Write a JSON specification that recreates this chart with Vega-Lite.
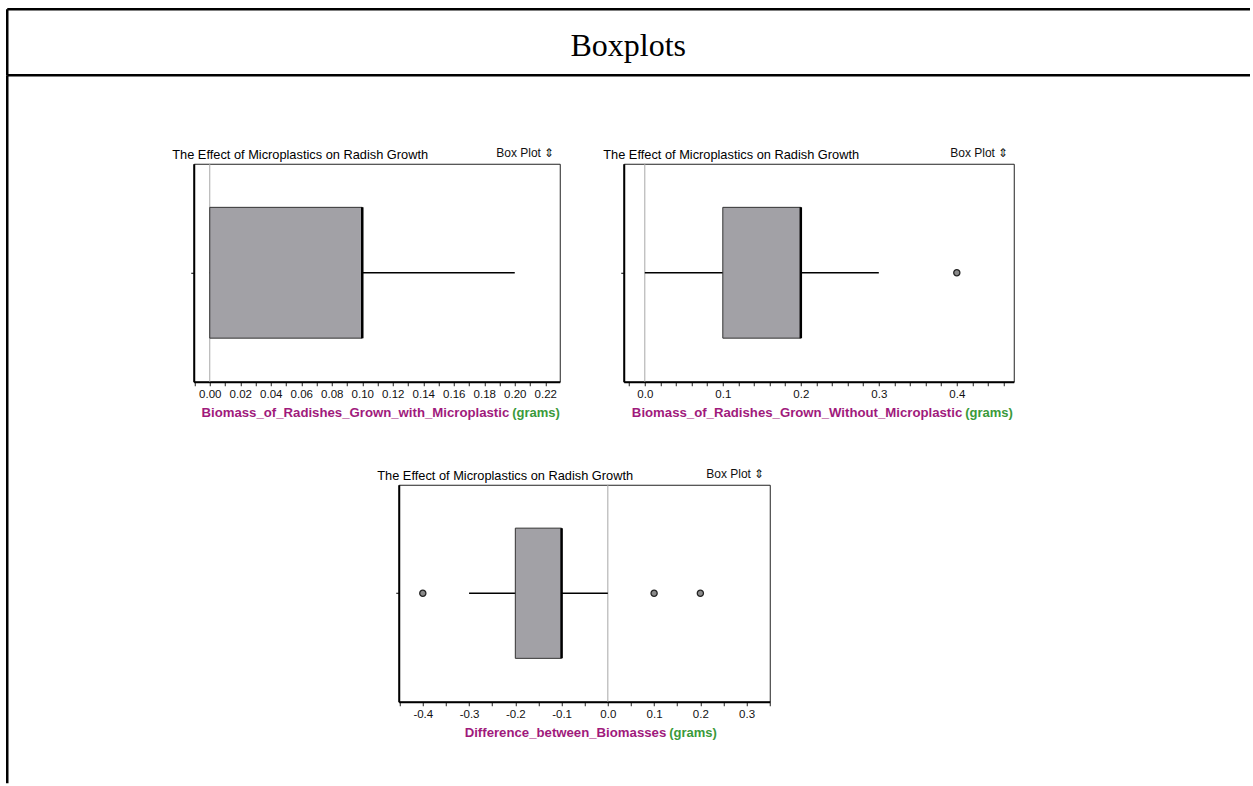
{
  "$schema": "https://vega.github.io/schema/vega-lite/v6.json",
  "background": "white",
  "padding": {"left": 6.75, "top": 8.75, "right": 0, "bottom": 0},
  "config": {
    "font": "Liberation Sans",
    "axis": {"labelFont": "Liberation Sans", "titleFont": "Liberation Sans"}
  },
  "datasets": {
    "header": [{"label": "Boxplots"}],
    "summary": [
      {"panel": "with", "variable": "Biomass_of_Radishes_Grown_with_Microplastic", "min": 0, "q1": 0, "median": 0.1, "q3": 0.1, "max": 0.2},
      {"panel": "without", "variable": "Biomass_of_Radishes_Grown_Without_Microplastic", "min": 0, "q1": 0.1, "median": 0.2, "q3": 0.2, "max": 0.3},
      {"panel": "difference", "variable": "Difference_between_Biomasses", "min": -0.3, "q1": -0.2, "median": -0.1, "q3": -0.1, "max": 0}
    ],
    "outliers": [
      {"panel": "without", "variable": "Biomass_of_Radishes_Grown_Without_Microplastic", "value": 0.4},
      {"panel": "difference", "variable": "Difference_between_Biomasses", "value": -0.4},
      {"panel": "difference", "variable": "Difference_between_Biomasses", "value": 0.1},
      {"panel": "difference", "variable": "Difference_between_Biomasses", "value": 0.2}
    ]
  },
  "bounds": "flush",
  "spacing": 0,
  "vconcat": [
    {
      "width": 1243,
      "height": 66,
      "view": {"stroke": null},
      "data": {"name": "header"},
      "mark": {"type": "text", "font": "Liberation Serif", "fontSize": 32, "baseline": "alphabetic", "align": "center", "color": "black"},
      "encoding": {
        "text": {"field": "label"},
        "x": {"datum": 0.5, "type": "quantitative", "scale": {"domain": [0, 1]}, "axis": null},
        "y": {"datum": 0.29, "type": "quantitative", "scale": {"domain": [0, 1], "nice": false},
              "axis": {"values": [0, 1], "grid": true, "gridColor": "black", "gridWidth": 2.5, "gridOpacity": 1, "domain": true, "domainColor": "black", "domainWidth": 2.5, "ticks": false, "labels": false, "title": null}}
      }
    },
    {
      "bounds": "flush",
      "spacing": 0,
      "hconcat": [
        {
          "width": 187,
          "height": 708,
          "view": {"stroke": null},
          "data": {"name": "header"},
          "mark": {"type": "text"},
          "encoding": {
            "text": {"value": ""},
            "y": {"datum": 0, "type": "quantitative", "scale": {"domain": [0, 1]},
                  "axis": {"domain": true, "domainColor": "black", "domainWidth": 2.5, "ticks": false, "labels": false, "grid": false, "title": null}}
          }
        },
        {
          "bounds": "flush",
          "spacing": 0,
          "vconcat": [
            {
              "width": 10, "height": 89, "view": {"stroke": null},
              "data": {"name": "header"}, "mark": "text", "encoding": {"text": {"value": ""}}
            },
            {
              "bounds": "flush",
              "spacing": 64,
              "hconcat": [
                {
                  "width": 366,
                  "height": 218,
                  "view": {"stroke": "#222", "strokeWidth": 1},
                  "resolve": {"axis": {"x": "independent", "y": "independent"}},
                  "layer": [
                    {
                      "data": {"name": "summary"},
                      "transform": [{"filter": "datum.panel === 'with'"}],
                      "mark": {"type": "rule", "color": "#a8a8a8", "strokeWidth": 1},
                      "encoding": {"x": {"datum": 0, "type": "quantitative", "axis": null}}
                    },
                    {
                      "data": {"name": "summary"},
                      "transform": [{"filter": "datum.panel === 'with'"}],
                      "mark": {"type": "rule", "color": "black", "strokeWidth": 1.5},
                      "encoding": {
                        "x": {"field": "min", "type": "quantitative",
                              "axis": {"orient": "top", "domain": false, "ticks": false, "labels": false, "grid": false, "title": "(grams)", "titleColor": "#3a9a3a", "titleFontSize": 13, "titleFontWeight": "bold", "titleAlign": "left", "titleAnchor": null, "titleBaseline": "alphabetic", "titleX": 318, "titleY": 253}},
                        "x2": {"field": "max"},
                        "y": {"field": "variable", "type": "nominal", "axis": null}
                      }
                    },
                    {
                      "data": {"name": "summary"},
                      "transform": [{"filter": "datum.panel === 'with'"}],
                      "mark": {"type": "bar", "height": {"band": 0.6}, "fill": "#a2a1a6", "stroke": "#333333", "strokeWidth": 1},
                      "encoding": {
                        "x": {"field": "q1", "type": "quantitative",
                              "scale": {"domain": [-0.0105, 0.2295], "nice": false, "zero": false},
                              "axis": {"orient": "bottom", "values": [-0.01, 0, 0.01, 0.02, 0.03, 0.04, 0.05, 0.06, 0.07, 0.08, 0.09, 0.1, 0.11, 0.12, 0.13, 0.14, 0.15, 0.16, 0.17, 0.18, 0.19, 0.2, 0.21, 0.22],
                                       "labelExpr": "abs(round(datum.value*100)) % 2 == 0 ? format(datum.value, '.2f') : ''",
                                       "labelFontSize": 11.5, "labelColor": "#111", "labelPadding": 3, "labelFlush": false, "labelOverlap": false,
                                       "domainColor": "black", "domainWidth": 2, "tickColor": "#222", "tickSize": 4, "grid": false,
                                       "title": "Biomass_of_Radishes_Grown_with_Microplastic", "titleColor": "#a01a7c", "titleFontSize": 13.2, "titleFontWeight": "bold", "titleAlign": "right", "titleAnchor": null, "titleBaseline": "alphabetic", "titleX": 315, "titleY": 35}},
                        "x2": {"field": "q3"},
                        "y": {"field": "variable", "type": "nominal", "scale": {"paddingInner": 0, "paddingOuter": 0},
                              "axis": {"orient": "left", "labels": false, "ticks": true, "tickSize": 3, "tickColor": "black", "domainColor": "black", "domainWidth": 2, "grid": false,
                                       "title": "The Effect of Microplastics on Radish Growth", "titleAngle": 0, "titleAlign": "left", "titleAnchor": null, "titleBaseline": "alphabetic", "titleFontSize": 12.8, "titleFontWeight": "normal", "titleColor": "black", "titleX": -22, "titleY": -5}}
                      }
                    },
                    {
                      "data": {"name": "summary"},
                      "transform": [{"filter": "datum.panel === 'with'"}],
                      "mark": {"type": "bar", "height": {"band": 0.6}, "fill": null, "stroke": "black", "strokeWidth": 2.5},
                      "encoding": {
                        "x": {"field": "median", "type": "quantitative", "axis": null},
                        "x2": {"field": "median"},
                        "y": {"field": "variable", "type": "nominal",
                              "axis": {"orient": "right", "labels": false, "ticks": false, "domain": false, "grid": false,
                                       "title": "Box Plot ⇕", "titleAngle": 0, "titleAlign": "right", "titleAnchor": null, "titleBaseline": "alphabetic", "titleFontSize": 12, "titleFontWeight": "normal", "titleColor": "#111", "titleX": -6, "titleY": -7}}
                      }
                    }
                  ]
                },
                {
                  "width": 390,
                  "height": 218,
                  "view": {"stroke": "#222", "strokeWidth": 1},
                  "resolve": {"axis": {"x": "independent", "y": "independent"}},
                  "layer": [
                    {
                      "data": {"name": "summary"},
                      "transform": [{"filter": "datum.panel === 'without'"}],
                      "mark": {"type": "rule", "color": "#a8a8a8", "strokeWidth": 1},
                      "encoding": {"x": {"datum": 0, "type": "quantitative", "axis": null}}
                    },
                    {
                      "data": {"name": "summary"},
                      "transform": [{"filter": "datum.panel === 'without'"}],
                      "mark": {"type": "rule", "color": "black", "strokeWidth": 1.5},
                      "encoding": {
                        "x": {"field": "min", "type": "quantitative",
                              "axis": {"orient": "top", "domain": false, "ticks": false, "labels": false, "grid": false, "title": "(grams)", "titleColor": "#3a9a3a", "titleFontSize": 13, "titleFontWeight": "bold", "titleAlign": "left", "titleAnchor": null, "titleBaseline": "alphabetic", "titleX": 341, "titleY": 253}},
                        "x2": {"field": "max"},
                        "y": {"field": "variable", "type": "nominal", "axis": null}
                      }
                    },
                    {
                      "data": {"name": "summary"},
                      "transform": [{"filter": "datum.panel === 'without'"}],
                      "mark": {"type": "bar", "height": {"band": 0.6}, "fill": "#a2a1a6", "stroke": "#333333", "strokeWidth": 1},
                      "encoding": {
                        "x": {"field": "q1", "type": "quantitative",
                              "scale": {"domain": [-0.027, 0.473], "nice": false, "zero": false},
                              "axis": {"orient": "bottom", "values": [-0.02, 0, 0.02, 0.04, 0.06, 0.08, 0.1, 0.12, 0.14, 0.16, 0.18, 0.2, 0.22, 0.24, 0.26, 0.28, 0.3, 0.32, 0.34, 0.36, 0.38, 0.4, 0.42, 0.44, 0.46],
                                       "labelExpr": "abs(round(datum.value*100)) % 10 == 0 ? format(datum.value, '.1f') : ''",
                                       "labelFontSize": 11.5, "labelColor": "#111", "labelPadding": 3, "labelFlush": false, "labelOverlap": false,
                                       "domainColor": "black", "domainWidth": 2, "tickColor": "#222", "tickSize": 4, "grid": false,
                                       "title": "Biomass_of_Radishes_Grown_Without_Microplastic", "titleColor": "#a01a7c", "titleFontSize": 13.2, "titleFontWeight": "bold", "titleAlign": "right", "titleAnchor": null, "titleBaseline": "alphabetic", "titleX": 338, "titleY": 35}},
                        "x2": {"field": "q3"},
                        "y": {"field": "variable", "type": "nominal", "scale": {"paddingInner": 0, "paddingOuter": 0},
                              "axis": {"orient": "left", "labels": false, "ticks": true, "tickSize": 3, "tickColor": "black", "domainColor": "black", "domainWidth": 2, "grid": false,
                                       "title": "The Effect of Microplastics on Radish Growth", "titleAngle": 0, "titleAlign": "left", "titleAnchor": null, "titleBaseline": "alphabetic", "titleFontSize": 12.8, "titleFontWeight": "normal", "titleColor": "black", "titleX": -21, "titleY": -5}}
                      }
                    },
                    {
                      "data": {"name": "summary"},
                      "transform": [{"filter": "datum.panel === 'without'"}],
                      "mark": {"type": "bar", "height": {"band": 0.6}, "fill": null, "stroke": "black", "strokeWidth": 2.5},
                      "encoding": {
                        "x": {"field": "median", "type": "quantitative", "axis": null},
                        "x2": {"field": "median"},
                        "y": {"field": "variable", "type": "nominal",
                              "axis": {"orient": "right", "labels": false, "ticks": false, "domain": false, "grid": false,
                                       "title": "Box Plot ⇕", "titleAngle": 0, "titleAlign": "right", "titleAnchor": null, "titleBaseline": "alphabetic", "titleFontSize": 12, "titleFontWeight": "normal", "titleColor": "#111", "titleX": -6, "titleY": -7}}
                      }
                    },
                    {
                      "data": {"name": "outliers"},
                      "transform": [{"filter": "datum.panel === 'without'"}],
                      "mark": {"type": "point", "shape": "circle", "filled": true, "size": 38, "fill": "#8a8a8a", "stroke": "#222222", "strokeWidth": 1.3, "opacity": 1},
                      "encoding": {
                        "x": {"field": "value", "type": "quantitative", "axis": null},
                        "y": {"field": "variable", "type": "nominal", "axis": null}
                      }
                    }
                  ]
                }
              ]
            },
            {
              "width": 10, "height": 321, "view": {"stroke": null},
              "data": {"name": "header"}, "mark": "text", "encoding": {"text": {"value": ""}}
            },
            {
              "bounds": "flush",
              "spacing": 0,
              "hconcat": [
                {
                  "width": 205, "height": 10, "view": {"stroke": null},
                  "data": {"name": "header"}, "mark": "text", "encoding": {"text": {"value": ""}}
                },
                {
                  "width": 371,
                  "height": 217,
                  "view": {"stroke": "#222", "strokeWidth": 1},
                  "resolve": {"axis": {"x": "independent", "y": "independent"}},
                  "layer": [
                    {
                      "data": {"name": "summary"},
                      "transform": [{"filter": "datum.panel === 'difference'"}],
                      "mark": {"type": "rule", "color": "#a8a8a8", "strokeWidth": 1},
                      "encoding": {"x": {"datum": 0, "type": "quantitative", "axis": null}}
                    },
                    {
                      "data": {"name": "summary"},
                      "transform": [{"filter": "datum.panel === 'difference'"}],
                      "mark": {"type": "rule", "color": "black", "strokeWidth": 1.5},
                      "encoding": {
                        "x": {"field": "min", "type": "quantitative",
                              "axis": {"orient": "top", "domain": false, "ticks": false, "labels": false, "grid": false, "title": "(grams)", "titleColor": "#3a9a3a", "titleFontSize": 13, "titleFontWeight": "bold", "titleAlign": "left", "titleAnchor": null, "titleBaseline": "alphabetic", "titleX": 270, "titleY": 252}},
                        "x2": {"field": "max"},
                        "y": {"field": "variable", "type": "nominal", "axis": null}
                      }
                    },
                    {
                      "data": {"name": "summary"},
                      "transform": [{"filter": "datum.panel === 'difference'"}],
                      "mark": {"type": "bar", "height": {"band": 0.6}, "fill": "#a2a1a6", "stroke": "#333333", "strokeWidth": 1},
                      "encoding": {
                        "x": {"field": "q1", "type": "quantitative",
                              "scale": {"domain": [-0.452, 0.35], "nice": false, "zero": false},
                              "axis": {"orient": "bottom", "values": [-0.45, -0.4, -0.35, -0.3, -0.25, -0.2, -0.15, -0.1, -0.05, 0, 0.05, 0.1, 0.15, 0.2, 0.25, 0.3, 0.35],
                                       "labelExpr": "abs(round(datum.value*100)) % 10 == 0 ? replace(format(datum.value, '.1f'), '−', '-') : ''",
                                       "labelFontSize": 11.5, "labelColor": "#111", "labelPadding": 3, "labelFlush": false, "labelOverlap": false,
                                       "domainColor": "black", "domainWidth": 2, "tickColor": "#222", "tickSize": 4, "grid": false,
                                       "title": "Difference_between_Biomasses", "titleColor": "#a01a7c", "titleFontSize": 13.2, "titleFontWeight": "bold", "titleAlign": "right", "titleAnchor": null, "titleBaseline": "alphabetic", "titleX": 267, "titleY": 35}},
                        "x2": {"field": "q3"},
                        "y": {"field": "variable", "type": "nominal", "scale": {"paddingInner": 0, "paddingOuter": 0},
                              "axis": {"orient": "left", "labels": false, "ticks": true, "tickSize": 3, "tickColor": "black", "domainColor": "black", "domainWidth": 2, "grid": false,
                                       "title": "The Effect of Microplastics on Radish Growth", "titleAngle": 0, "titleAlign": "left", "titleAnchor": null, "titleBaseline": "alphabetic", "titleFontSize": 12.8, "titleFontWeight": "normal", "titleColor": "black", "titleX": -22, "titleY": -5}}
                      }
                    },
                    {
                      "data": {"name": "summary"},
                      "transform": [{"filter": "datum.panel === 'difference'"}],
                      "mark": {"type": "bar", "height": {"band": 0.6}, "fill": null, "stroke": "black", "strokeWidth": 2.5},
                      "encoding": {
                        "x": {"field": "median", "type": "quantitative", "axis": null},
                        "x2": {"field": "median"},
                        "y": {"field": "variable", "type": "nominal",
                              "axis": {"orient": "right", "labels": false, "ticks": false, "domain": false, "grid": false,
                                       "title": "Box Plot ⇕", "titleAngle": 0, "titleAlign": "right", "titleAnchor": null, "titleBaseline": "alphabetic", "titleFontSize": 12, "titleFontWeight": "normal", "titleColor": "#111", "titleX": -6, "titleY": -7}}
                      }
                    },
                    {
                      "data": {"name": "outliers"},
                      "transform": [{"filter": "datum.panel === 'difference'"}],
                      "mark": {"type": "point", "shape": "circle", "filled": true, "size": 38, "fill": "#8a8a8a", "stroke": "#222222", "strokeWidth": 1.3, "opacity": 1},
                      "encoding": {
                        "x": {"field": "value", "type": "quantitative", "axis": null},
                        "y": {"field": "variable", "type": "nominal", "axis": null}
                      }
                    }
                  ]
                }
              ]
            }
          ]
        }
      ]
    }
  ]
}
